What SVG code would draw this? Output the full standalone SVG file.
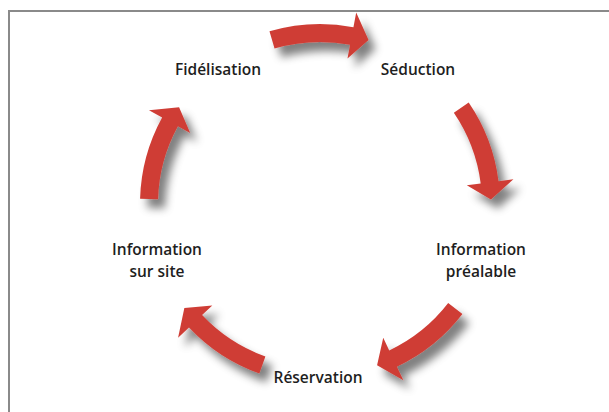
<svg xmlns="http://www.w3.org/2000/svg" xmlns:xlink="http://www.w3.org/1999/xlink" width="609" height="412" viewBox="0 0 609 412">
  <style>
    .label { font-family: "Open Sans", "Noto Sans", "Liberation Sans", sans-serif; font-weight: 600; font-size: 15.5px; fill: #1e1e1e; text-anchor: middle; }
    .arrow { fill: #cf3e36; }
    .frame { fill: none; stroke: #8a8a8a; stroke-width: 2; }
  </style>
  <defs>
    <!-- soft drop shadow, always cast down and to the right -->
    <filter id="shadow" x="-30%" y="-30%" width="170%" height="170%">
      <feGaussianBlur in="SourceAlpha" stdDeviation="4.5" result="blur"/>
      <feOffset in="blur" dx="7" dy="9" result="off"/>
      <feFlood flood-color="#000" flood-opacity="0.5"/>
      <feComposite in2="off" operator="in" result="shade"/>
      <feMerge>
        <feMergeNode in="shade"/>
        <feMergeNode in="SourceGraphic"/>
      </feMerge>
    </filter>
    <!-- one curved arrow segment on a circle of radius 171 around the origin, centred at 12 o'clock -->
    <path id="arc-arrow" class="arrow"
          d="M -50.53 -172.76 A 180 180 0 0 1 33.43 -176.87 L 36.21 -191.61 L 48.56 -163.95 L 27.48 -145.42 L 30.08 -159.18 A 162 162 0 0 0 -45.47 -155.49 Z"/>
  </defs>

  <rect width="609" height="412" fill="#ffffff"/>
  <path class="frame" d="M 9 412 L 9 11 L 609 11"/>

  <!-- connectors: five arrows turning clockwise -->
  <g id="connectors">
    <g filter="url(#shadow)"><use xlink:href="#arc-arrow" transform="translate(320 204) rotate(0)"/></g>
    <g filter="url(#shadow)"><use xlink:href="#arc-arrow" transform="translate(320 204) rotate(72)"/></g>
    <g filter="url(#shadow)"><use xlink:href="#arc-arrow" transform="translate(320 204) rotate(144)"/></g>
    <g filter="url(#shadow)"><use xlink:href="#arc-arrow" transform="translate(320 204) rotate(216)"/></g>
    <g filter="url(#shadow)"><use xlink:href="#arc-arrow" transform="translate(320 204) rotate(288)"/></g>
  </g>

  <g id="fidelisation"><text class="label" x="218" y="75">Fidélisation</text></g>
  <g id="seduction"><text class="label" x="418" y="75">Séduction</text></g>
  <g id="information-prealable">
    <text class="label" x="481" y="255">Information</text>
    <text class="label" x="481" y="277">préalable</text>
  </g>
  <g id="reservation"><text class="label" x="318" y="383">Réservation</text></g>
  <g id="information-sur-site">
    <text class="label" x="157" y="255">Information</text>
    <text class="label" x="157" y="277">sur site</text>
  </g>
</svg>
